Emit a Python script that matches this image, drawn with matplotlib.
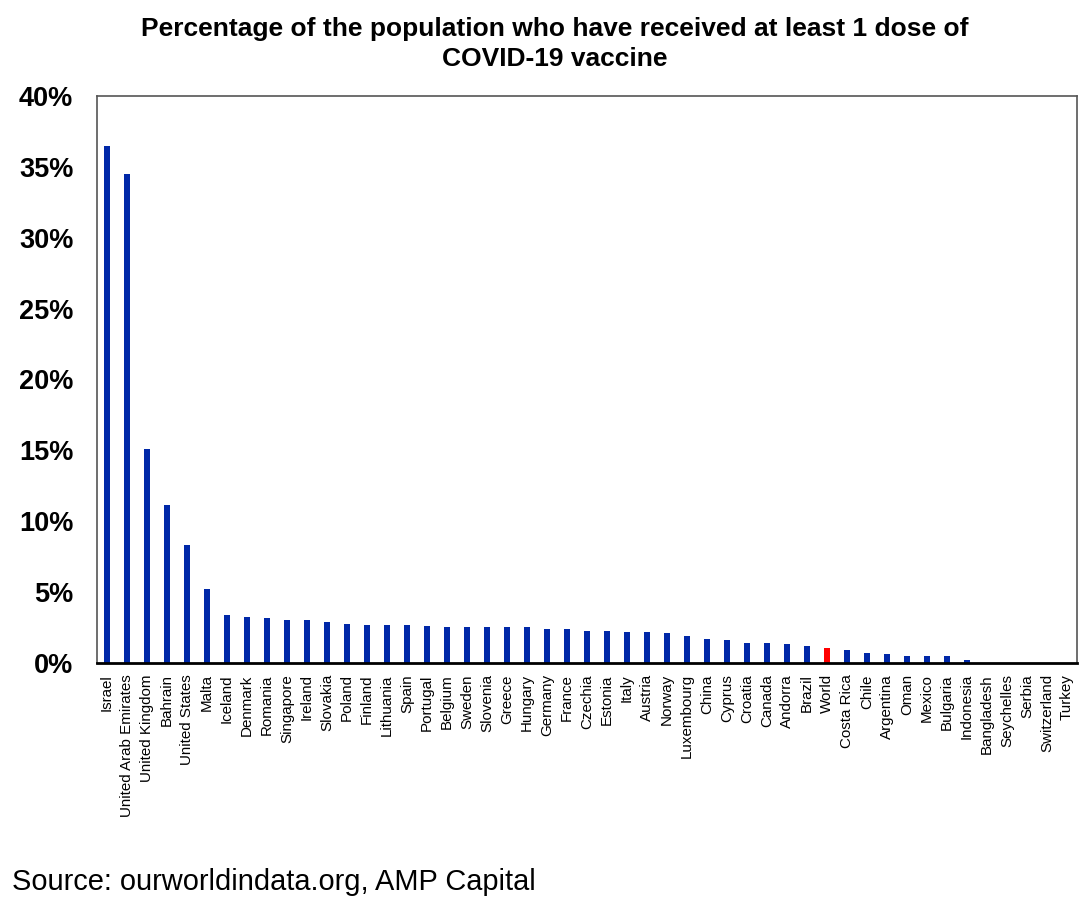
import matplotlib
matplotlib.use('Agg')
import matplotlib.pyplot as plt
from matplotlib.ticker import PercentFormatter

plt.rcParams['font.family'] = ['Liberation Sans', 'DejaVu Sans']

# share of population with at least one dose, %
countries = ['Israel', 'United Arab Emirates', 'United Kingdom', 'Bahrain', 'United States',
             'Malta', 'Iceland', 'Denmark', 'Romania', 'Singapore', 'Ireland', 'Slovakia',
             'Poland', 'Finland', 'Lithuania', 'Spain', 'Portugal', 'Belgium', 'Sweden',
             'Slovenia', 'Greece', 'Hungary', 'Germany', 'France', 'Czechia', 'Estonia',
             'Italy', 'Austria', 'Norway', 'Luxembourg', 'China', 'Cyprus', 'Croatia',
             'Canada', 'Andorra', 'Brazil', 'World', 'Costa Rica', 'Chile', 'Argentina',
             'Oman', 'Mexico', 'Bulgaria', 'Indonesia', 'Bangladesh', 'Seychelles',
             'Serbia', 'Switzerland', 'Turkey']
values = [36.5, 34.5, 15.07, 11.16, 8.29,
          5.23, 3.39, 3.27, 3.18, 3.06, 3.06, 2.92,
          2.76, 2.69, 2.69, 2.69, 2.64, 2.57, 2.57,
          2.57, 2.57, 2.57, 2.42, 2.38, 2.28, 2.27,
          2.21, 2.17, 2.10, 1.93, 1.72, 1.63, 1.44,
          1.44, 1.32, 1.18, 1.06, 0.90, 0.68, 0.61,
          0.49, 0.47, 0.47, 0.23, 0.0, 0.0,
          0.0, 0.0, 0.0]
highlight = 'World'

blue = '#0028A8'
red = '#FF0000'
colors = [red if c == highlight else blue for c in countries]

fig = plt.figure(figsize=(10.89, 9.14), dpi=100)
ax = fig.add_axes([0.089, 0.2746, 0.900, 0.6204])

x = range(len(countries))
ax.bar(x, values, width=0.32, color=colors)

ax.set_xlim(-0.5, len(countries) - 0.5)
ax.set_ylim(0, 40)
ax.set_yticks(range(0, 41, 5))
ax.yaxis.set_major_formatter(PercentFormatter(decimals=0))
ax.set_xticks(list(x))
ax.set_xticklabels(countries, rotation=90, fontsize=10.9)
ax.tick_params(axis='both', length=0)
ax.tick_params(axis='y', labelsize=19.5, pad=17)
ax.tick_params(axis='x', pad=8)
for lbl in ax.get_yticklabels():
    lbl.set_fontweight('bold')

for side in ['left', 'top', 'right']:
    ax.spines[side].set_color('#555555')
    ax.spines[side].set_linewidth(1.2)
ax.spines['bottom'].set_color('black')
ax.spines['bottom'].set_linewidth(2)

fig.text(0.509, 0.952, 'Percentage of the population who have received at least 1 dose of\nCOVID-19 vaccine',
         ha='center', va='center', fontsize=19, fontweight='bold', linespacing=1.3)
fig.text(0.011, 0.035, 'Source: ourworldindata.org, AMP Capital', ha='left', va='center', fontsize=20.9)

fig.savefig('out.png', dpi=100)
